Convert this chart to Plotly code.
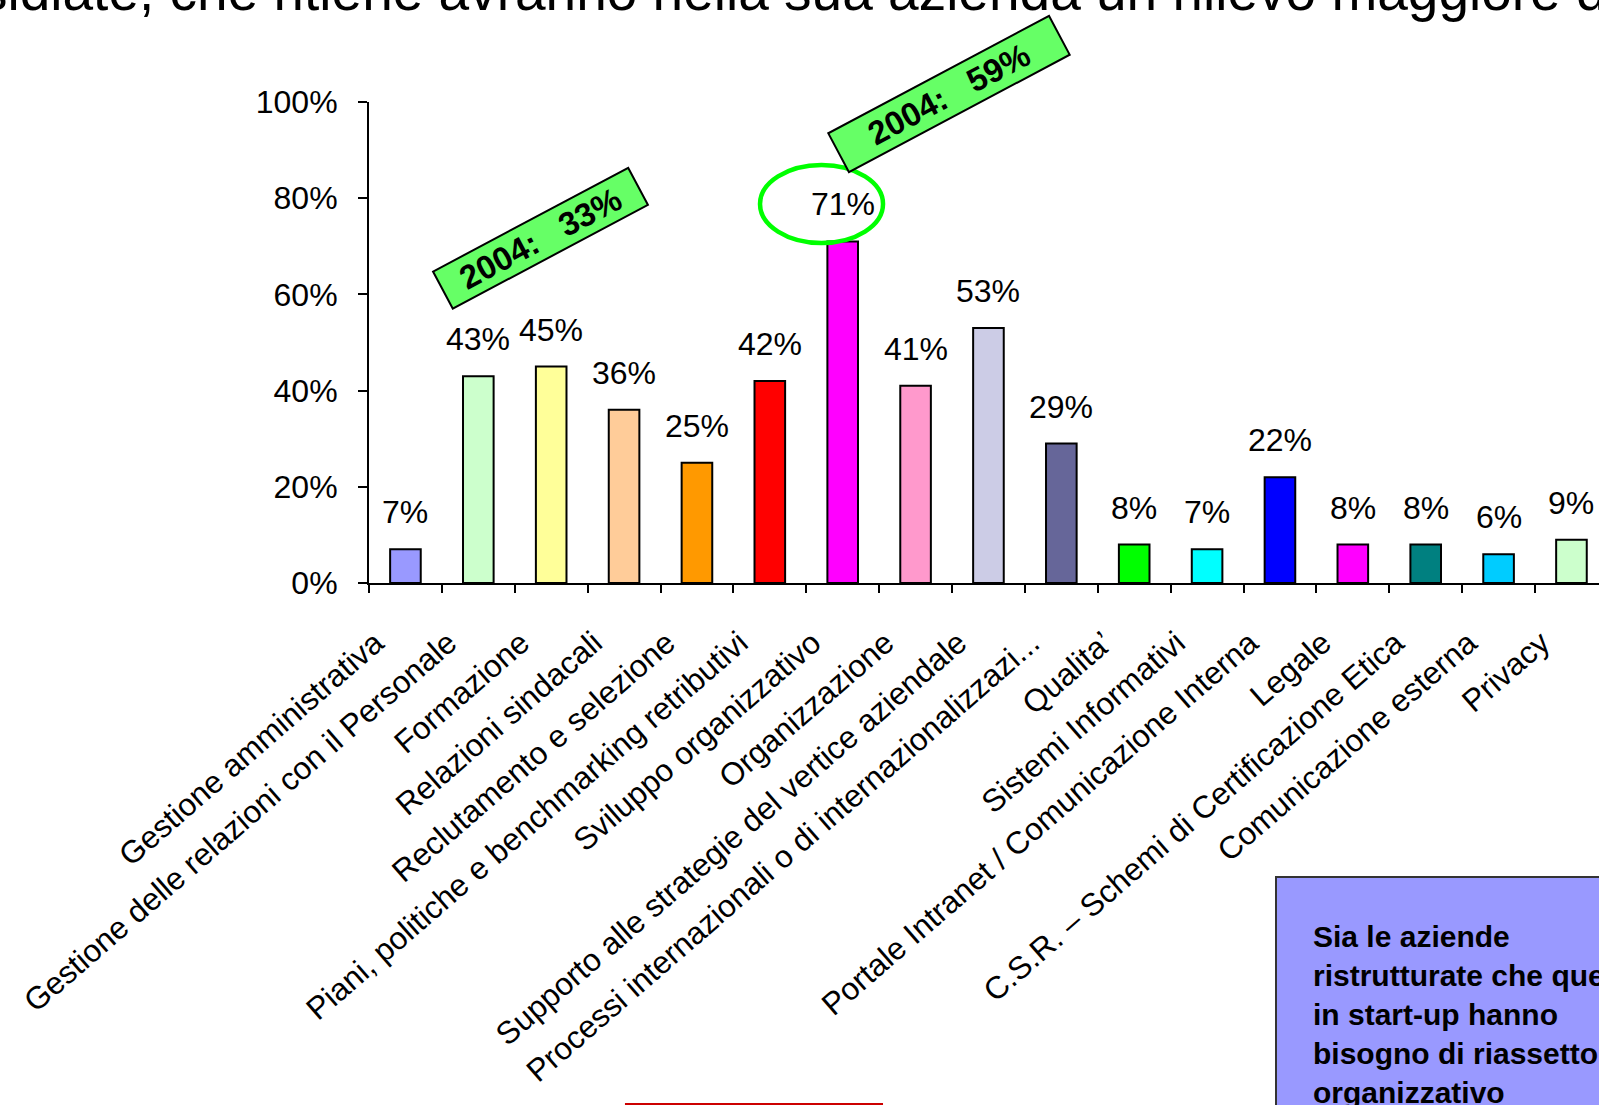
import plotly.graph_objects as go

categories = [
    "Gestione amministrativa",
    "Gestione delle relazioni con il Personale",
    "Formazione",
    "Relazioni sindacali",
    "Reclutamento e selezione",
    "Piani, politiche e benchmarking retributivi",
    "Sviluppo organizzativo",
    "Organizzazione",
    "Supporto alle strategie del vertice aziendale",
    "Processi internazionali o di internazionalizzazi...",
    "Qualita’",
    "Sistemi Informativi",
    "Portale Intranet / Comunicazione Interna",
    "Legale",
    "C.S.R. – Schemi di Certificazione Etica",
    "Comunicazione esterna",
    "Privacy",
]
values = [7, 43, 45, 36, 25, 42, 71, 41, 53, 29, 8, 7, 22, 8, 8, 6, 9]
bar_colors = [
    "#9999FF", "#CCFFCC", "#FFFF99", "#FFCC99", "#FF9900", "#FF0000",
    "#FF00FF", "#FF99CC", "#CCCCE6", "#666699", "#00FF00", "#00FFFF",
    "#0000FF", "#FF00FF", "#008080", "#00CCFF", "#CCFFCC",
]
y_ticks = [0, 20, 40, 60, 80, 100]

callout_texts = ["2004:\u00a0\u00a0\u00a033%", "2004:\u00a0\u00a0\u00a059%"]
title_text = "sidiate, che ritiene avranno nella sua azienda un rilievo maggiore di"
box_lines = ["Sia le aziende", "ristrutturate che quelle", "in start-up hanno",
             "bisogno di riassetto", "organizzativo"]

FONT = "Liberation Sans, Arial, sans-serif"

fig = go.Figure()
fig.add_trace(go.Bar(
    x=categories, y=values,
    marker=dict(color=bar_colors, line=dict(color="black", width=2)),
    width=0.42, hoverinfo="x+y",
))

annotations = []
for c, v in zip(categories, values):
    annotations.append(dict(
        x=c, y=v, xref="x", yref="y", text=f"{v}%", showarrow=False,
        yanchor="bottom", yshift=17, font=dict(family=FONT, size=32, color="black"),
    ))

# 2004 callouts
annotations.append(dict(
    x=0.1398, y=0.717, xref="paper", yref="paper", text=f"<b>{callout_texts[0]}</b>",
    xanchor="center", yanchor="middle",
    showarrow=False, textangle=-28, width=217, height=38, borderpad=1,
    bgcolor="#66FF66", bordercolor="black", borderwidth=2,
    font=dict(family=FONT, size=33, color="black"),
))
annotations.append(dict(
    x=0.4715, y=1.0166, xref="paper", yref="paper", text=f"<b>{callout_texts[1]}</b>",
    xanchor="center", yanchor="middle",
    showarrow=False, textangle=-28, width=246, height=40, borderpad=1,
    bgcolor="#66FF66", bordercolor="black", borderwidth=2,
    font=dict(family=FONT, size=33, color="black"),
))

# cut-off slide title
annotations.append(dict(
    x=-0.3179, y=1.162, xref="paper", yref="paper", text=title_text,
    showarrow=False, xanchor="left", yanchor="bottom",
    font=dict(family=FONT, size=55, color="black"),
))

# text box
annotations.append(dict(
    x=0.7659, y=-0.6965, xref="paper", yref="paper", text="<b>" + "<br>".join(box_lines) + "</b>",
    showarrow=False, xanchor="left", yanchor="top", align="left",
    font=dict(family=FONT, size=30, color="black"),
))

shapes = [
    dict(type="circle", xref="paper", yref="paper", x0=0.3179, x1=0.4179, y0=0.7069, y1=0.869,
         line=dict(color="#00FF00", width=4.5)),
    dict(type="rect", xref="paper", yref="paper", x0=0.7374, x1=1.05, y0=-1.2, y1=-0.611,
         fillcolor="#9999FF", line=dict(color="#333333", width=2), layer="below"),
    dict(type="line", xref="paper", yref="paper", x0=0.2081, x1=0.4179, y0=-1.0832, y1=-1.0832,
         line=dict(color="#CC0000", width=2)),
]

fig.update_layout(
    width=1599, height=1105,
    margin=dict(l=369, r=0, t=102, b=522, pad=0),
    paper_bgcolor="white", plot_bgcolor="white",
    showlegend=False,
    annotations=annotations, shapes=shapes,
    font=dict(family=FONT, color="black"),
)
fig.update_xaxes(
    type="category", range=[-0.5, 16.378], tickson="boundaries",
    ticks="outside", ticklen=8, tickwidth=2, tickcolor="black",
    showline=True, linecolor="black", linewidth=2, showgrid=False,
    tickangle=-41, tickfont=dict(family=FONT, size=31.5, color="black"),
    automargin=False, ticklabelstandoff=27, ticklabelshift=-30,
)
fig.update_yaxes(
    range=[0, 100], tickvals=y_ticks, ticktext=[f"{t}%" for t in y_ticks],
    ticks="outside", ticklen=9, tickwidth=2, tickcolor="black",
    showline=True, linecolor="black", linewidth=2, showgrid=False, zeroline=False,
    tickfont=dict(family=FONT, size=32, color="black"),
    automargin=False, ticklabelstandoff=14,
)

fig.write_html(
    "out.html",
    config={"displayModeBar": False},
    post_script="document.body.style.margin='0';document.body.style.overflow='hidden';",
)
